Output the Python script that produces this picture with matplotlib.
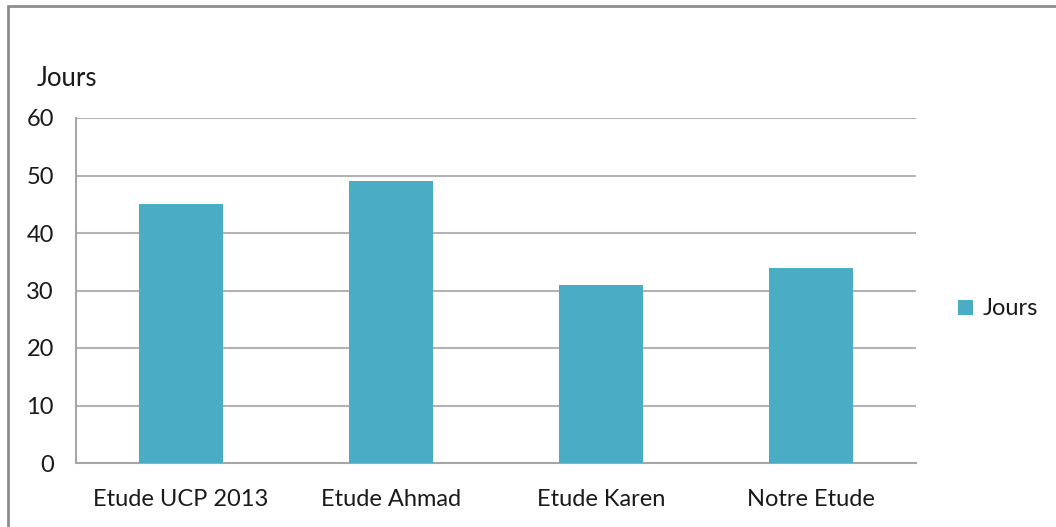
import matplotlib.pyplot as plt
from matplotlib.patches import Rectangle

plt.rcParams['font.family'] = ['Lato', 'DejaVu Sans']

# Données : durée (jours) par étude
etudes = ['Etude UCP 2013', 'Etude Ahmad', 'Etude Karen', 'Notre Etude']
jours = [45, 49, 31, 34]
yticks = [0, 10, 20, 30, 40, 50, 60]

W, H = 1056, 527
fig = plt.figure(figsize=(W / 100, H / 100), dpi=100)

# cadre gris autour du graphique
fig.patches.append(Rectangle((8 / W, -0.05), 1.1, 1.05 - 6 / H,
                             transform=fig.transFigure, fill=False,
                             edgecolor='#8c8c8c', linewidth=2, zorder=0))

ax = fig.add_axes([76 / W, (H - 463) / H, (916 - 76) / W, (463 - 118) / H])
x = range(len(etudes))
bars = ax.bar(x, jours, width=0.4, color='#4BACC6', zorder=3, label='Jours')

ax.set_xlim(-0.5, len(etudes) - 0.5)
ax.set_ylim(0, 60)
ax.set_yticks(yticks)
ax.set_xticks(list(x))
ax.set_xticklabels(etudes)
ax.yaxis.grid(True, color='#b3b3b3', linewidth=1.5, zorder=0)
ax.tick_params(length=0, labelsize=17, colors='#1a1a1a')
ax.tick_params(axis='y', pad=16)
ax.tick_params(axis='x', pad=19)

for side in ['top', 'right']:
    ax.spines[side].set_visible(False)
for side in ['left', 'bottom']:
    ax.spines[side].set_color('#a6a6a6')
    ax.spines[side].set_linewidth(1.5)

fig.text(37 / W, 1 - 78 / H, 'Jours', fontsize=18.5, color='#1a1a1a',
         va='center', ha='left')

ax.legend(loc='center left', bbox_to_anchor=(937 / W, 1 - 309 / H),
          bbox_transform=fig.transFigure, frameon=False, fontsize=17,
          handlelength=0.62, handleheight=0.62, handletextpad=0.4,
          labelcolor='#1a1a1a')

fig.savefig('out.png', dpi=100)
